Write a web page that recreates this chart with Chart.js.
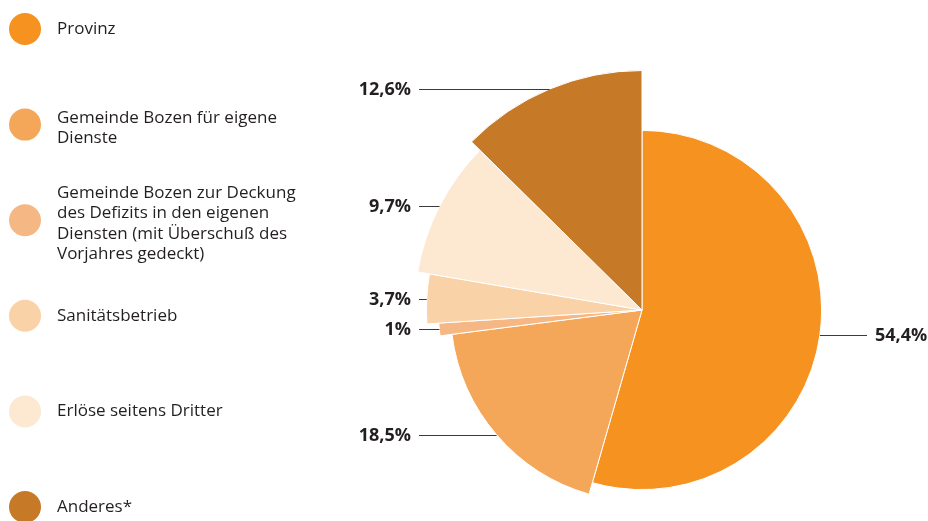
<!DOCTYPE html>
<html>
<head>
<meta charset="utf-8">
<script src="https://cdn.jsdelivr.net/npm/chart.js@4/dist/chart.umd.min.js"></script>
<style>
  html, body { margin: 0; padding: 0; background: #fff; overflow: hidden; }
  #wrap { position: absolute; left: 0; top: 0; width: 928px; height: 560px; }
</style>
</head>
<body>
<div id="wrap"><canvas id="chart" width="928" height="560"></canvas></div>
<script>
// categories (legend lines) and shares in percent
const labels = [
  ['Provinz'],
  ['Gemeinde Bozen für eigene', 'Dienste'],
  ['Gemeinde Bozen zur Deckung', 'des Defizits in den eigenen', 'Diensten (mit Überschuß des', 'Vorjahres gedeckt)'],
  ['Sanitätsbetrieb'],
  ['Erlöse seitens Dritter'],
  ['Anderes*'],
]
const shares = [54.4, 18.5, 1, 3.7, 9.7, 12.6]

const colors = ['#F6921F', '#F4A759', '#F5B884', '#F9D3A7', '#FDE8D2', '#C67A28']
// each slice is drawn a bit longer than the one before it
const radiusFactor = [0.75, 0.8, 0.85, 0.9, 0.95, 1]

const textColor = '#231f20'
const fmt = v => String(v).replace('.', ',') + '%'

const stepRadius = {
  id: 'stepRadius',
  afterDatasetsUpdate (chart) {
    const meta = chart.getDatasetMeta(0)
    const base = meta.controller.outerRadius
    meta.data.forEach((arc, i) => { arc.outerRadius = base * radiusFactor[i] })
  },
}

const sliceLabels = {
  id: 'sliceLabels',
  afterDraw (chart) {
    const ctx = chart.ctx
    const meta = chart.getDatasetMeta(0)
    ctx.save()
    ctx.font = 'bold 18px "Open Sans"'
    ctx.textBaseline = 'middle'
    ctx.strokeStyle = '#3a3a3a'
    ctx.lineWidth = 1
    meta.data.forEach((arc, i) => {
      const mid = (arc.startAngle + arc.endAngle) / 2
      const px = arc.x + Math.cos(mid) * arc.outerRadius
      const py = Math.round(arc.y + Math.sin(mid) * arc.outerRadius) + 0.5
      ctx.beginPath()
      if (px < arc.x) {
        ctx.moveTo(419, py)
        ctx.lineTo(px, py)
        ctx.stroke()
        ctx.textAlign = 'right'
        ctx.fillStyle = textColor
        ctx.fillText(fmt(shares[i]), 411, py)
      } else {
        ctx.moveTo(px, py)
        ctx.lineTo(867, py)
        ctx.stroke()
        ctx.textAlign = 'left'
        ctx.fillStyle = textColor
        ctx.fillText(fmt(shares[i]), 875, py)
      }
    })
    ctx.restore()
  },
}

const sideLegend = {
  id: 'sideLegend',
  afterDraw (chart) {
    const ctx = chart.ctx
    ctx.save()
    ctx.font = '17px "Open Sans"'
    ctx.textBaseline = 'middle'
    ctx.textAlign = 'left'
    labels.forEach((lines, i) => {
      const cy = 29 + i * 95.6
      ctx.fillStyle = colors[i]
      ctx.beginPath()
      ctx.arc(25, cy, 16, 0, Math.PI * 2)
      ctx.fill()
      ctx.fillStyle = textColor
      const lh = 20.5
      const top = cy - (lines.length - 1) * lh / 2 + (lines.length > 1 ? 3.5 : 0)
      lines.forEach((t, j) => ctx.fillText(t, 57, top + j * lh))
    })
    ctx.restore()
  },
}

new Chart(document.getElementById('chart'), {
  type: 'pie',
  data: {
    labels: labels.map(l => l.join(' ')),
    datasets: [{ data: shares, backgroundColor: colors, borderColor: '#fff', borderWidth: 1 }],
  },
  options: {
    responsive: false,
    animation: false,
    layout: { padding: { left: 402, top: 70, right: 46, bottom: 10 } },
    plugins: { legend: { display: false }, tooltip: { enabled: false } },
  },
  plugins: [stepRadius, sliceLabels, sideLegend],
})
</script>
</body>
</html>
